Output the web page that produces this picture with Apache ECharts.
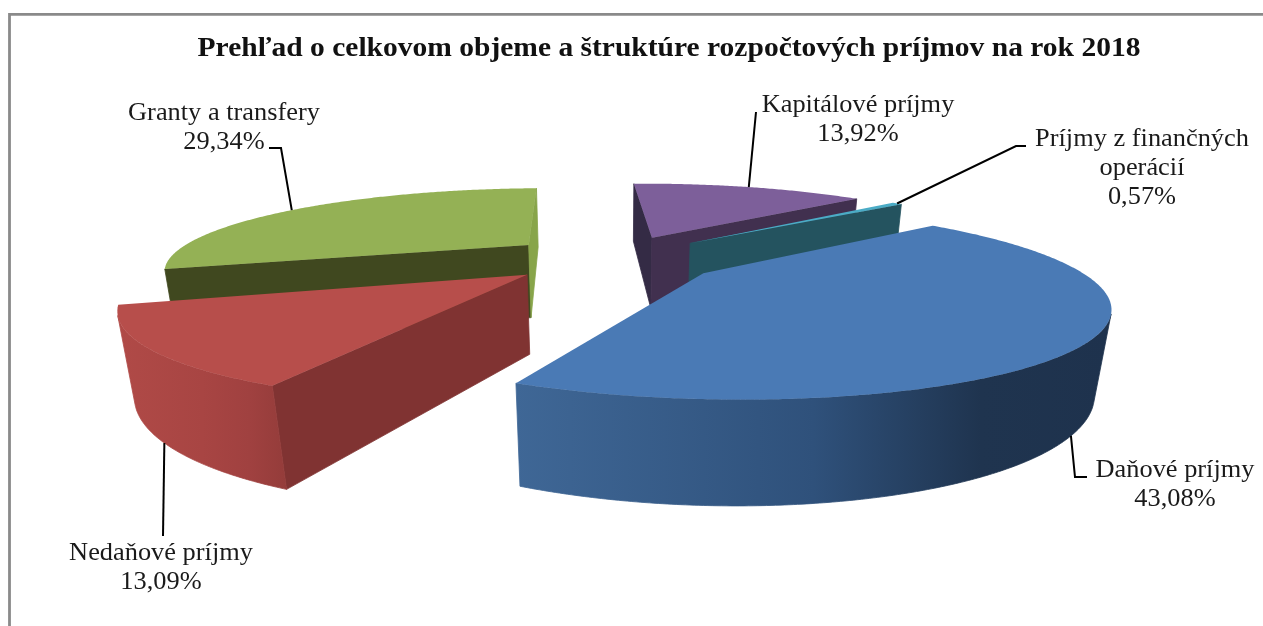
<!DOCTYPE html>
<html>
<head>
<meta charset="utf-8">
<title>Prehľad rozpočtových príjmov 2018</title>
<script src="https://cdn.jsdelivr.net/npm/echarts@6/dist/echarts.min.js"></script>
<style>
  html, body { margin: 0; padding: 0; background: #fff; }
  #chart { width: 1263px; height: 626px; }
</style>
</head>
<body>
<div id="chart"></div>
<script>
// hodnoty z grafu
const chartTitle = 'Prehľad o celkovom objeme a štruktúre rozpočtových príjmov na rok 2018';
const categories = ['Daňové príjmy', 'Nedaňové príjmy', 'Granty a transfery', 'Kapitálové príjmy', 'Príjmy z finančných\noperácií'];
const shares = [43.08, 13.09, 29.34, 13.92, 0.57];

// farby: vrch, stena (start), stena (end), gradient vonkajsej steny
const topColors = ['#4a7ab5', '#b74e4b', '#94b155', '#7d5f9a', '#4bacc6'];
const startWall = ['#2f507a', '#803332', '#40481f', '#342b45', '#24535f'];
const endWall = ['#2f507a', '#803332', '#88a54a', '#41304f', '#24535f'];
const outerWall = [
  ['#3f6796', '#2f517b', '#1f344f', '#1e324d'],
  ['#b04a47', '#a84543', '#a04140', '#943c3a'],
  ['#6f8a3c', '#6f8a3c', '#6f8a3c', '#6f8a3c'],
  ['#41304f', '#41304f', '#41304f', '#41304f'],
  ['#24535f', '#24535f', '#24535f', '#24535f']
];

// poradie kreslenia, zadne kusy prve
const drawOrder = [2, 3, 4, 1, 0];

// popisky a vodiace ciary (zaciatok ciary sa pocita z obvodu vysece)
const labelPos = [[1175, 456], [161, 539], [224, 99], [858, 91], [1142, 125]];
const leaderBends = [
  [[1075, 477], [1087, 477]],
  [[163, 536]],
  [[281, 148], [269, 148]],
  [[756, 112]],
  [[1016, 146], [1026, 146]]
];
const leaderOnBottom = [true, true, false, false, false];
const leaderAt = [0.508, 0.51, 0.488, 0.5, 0.5];

// model perspektivy
const cx = 613, cy = 258;
const radiusX = 360, radiusY = 79.4, depth = 78;
const persp = 0.2845, bottomShrink = 0.03;
const explode = 0.3;
const firstAngle = -40;

function project(u, v, d) {
  const w = 1 - persp * v + bottomShrink * d;
  return [cx + radiusX * u / w, cy + (radiusY * v + depth * d) / w];
}

function area(pts) {
  let s = 0;
  pts.forEach((p, i) => {
    const q = pts[(i + 1) % pts.length];
    s += p[0] * q[1] - q[0] * p[1];
  });
  return s;
}

const total = shares.reduce((a, b) => a + b, 0);
const ranges = [];
let acc = firstAngle;
shares.forEach(s => {
  const sweep = s / total * 360;
  ranges.push([acc, acc + sweep]);
  acc += sweep;
});

function sliceGeom(i) {
  const [a0, a1] = ranges[i];
  const mid = (a0 + a1) / 2 * Math.PI / 180;
  const ou = explode * Math.cos(mid), ov = explode * Math.sin(mid);
  const rim = (deg, d) => {
    const t = deg * Math.PI / 180;
    return project(ou + Math.cos(t), ov + Math.sin(t), d);
  };
  return { a0, a1, mid, ou, ov, rim };
}

function renderSlice(params, api) {
  const i = api.value(0);
  const g = sliceGeom(i);
  const children = [];
  const wall = (points, fill) => children.push({
    type: 'polygon',
    shape: { points },
    style: { fill, stroke: fill, lineWidth: 0.8 }
  });

  const apexTop = project(g.ou, g.ov, 0), apexBottom = project(g.ou, g.ov, 1);

  // bocne steny
  const startQuad = [apexTop, g.rim(g.a0, 0), g.rim(g.a0, 1), apexBottom];
  if (area(startQuad) < 0) wall(startQuad, startWall[i]);
  const endQuad = [g.rim(g.a1, 0), apexTop, apexBottom, g.rim(g.a1, 1)];
  if (area(endQuad) < 0) wall(endQuad, endWall[i]);

  // vonkajsia stena, len viditelna cast
  const steps = Math.max(4, Math.ceil((g.a1 - g.a0) * 2));
  const upper = [], lower = [];
  for (let k = 0; k < steps; k++) {
    const t0 = g.a0 + (g.a1 - g.a0) * k / steps;
    const t1 = g.a0 + (g.a1 - g.a0) * (k + 1) / steps;
    const quad = [g.rim(t0, 0), g.rim(t1, 0), g.rim(t1, 1), g.rim(t0, 1)];
    if (area(quad) < 0) {
      if (!upper.length) { upper.push(quad[0]); lower.push(quad[3]); }
      upper.push(quad[1]);
      lower.push(quad[2]);
    }
  }
  if (upper.length) {
    const c = outerWall[i];
    wall(upper.concat(lower.reverse()), new echarts.graphic.LinearGradient(0, 0, 1, 0, [
      { offset: 0, color: c[0] },
      { offset: 0.5, color: c[1] },
      { offset: 0.78, color: c[2] },
      { offset: 1, color: c[3] }
    ]));
  }

  // vrch
  const top = [apexTop];
  for (let k = 0; k <= steps; k++) top.push(g.rim(g.a0 + (g.a1 - g.a0) * k / steps, 0));
  children.push({ type: 'polygon', shape: { points: top }, style: { fill: topColors[i], stroke: null } });

  return { type: 'group', children };
}

function renderLabel(params, api) {
  const i = api.value(0);
  const g = sliceGeom(i);
  const at = g.a0 + (g.a1 - g.a0) * leaderAt[i];
  const start = g.rim(at, leaderOnBottom[i] ? 1 : 0);
  const pct = api.value(1).toFixed(2).replace('.', ',') + '%';
  return {
    type: 'group',
    children: [
      {
        type: 'polyline',
        shape: { points: [start].concat(leaderBends[i]) },
        style: { stroke: '#000', lineWidth: 2, fill: null }
      },
      {
        type: 'text',
        x: labelPos[i][0],
        y: labelPos[i][1],
        scaleX: 1.055,
        style: {
          text: categories[i] + '\n' + pct,
          fill: '#1a1a1a',
          font: '25px "Liberation Serif"',
          lineHeight: 29,
          align: 'center',
          verticalAlign: 'top'
        }
      }
    ]
  };
}

const chart = echarts.init(document.getElementById('chart'));
chart.setOption({
  animation: false,
  backgroundColor: '#fff',
  graphic: [
    {
      type: 'polyline',
      silent: true,
      shape: { points: [[9.5, 626], [9.5, 14.3], [1263, 14.3]] },
      style: { stroke: '#8a8a8a', lineWidth: 2.8, fill: null }
    },
    {
      type: 'text',
      silent: true,
      x: 669,
      y: 49.5,
      scaleX: 1.093,
      style: {
        text: chartTitle,
        fill: '#111',
        font: 'bold 27px "Liberation Serif"',
        align: 'center',
        verticalAlign: 'middle'
      }
    }
  ],
  series: [
    {
      type: 'custom',
      coordinateSystem: 'none',
      renderItem: renderSlice,
      silent: true,
      z: 2,
      data: drawOrder.map(i => [i, shares[i]])
    },
    {
      type: 'custom',
      coordinateSystem: 'none',
      renderItem: renderLabel,
      silent: true,
      z: 3,
      data: shares.map((s, i) => [i, s])
    }
  ]
});
</script>
</body>
</html>
